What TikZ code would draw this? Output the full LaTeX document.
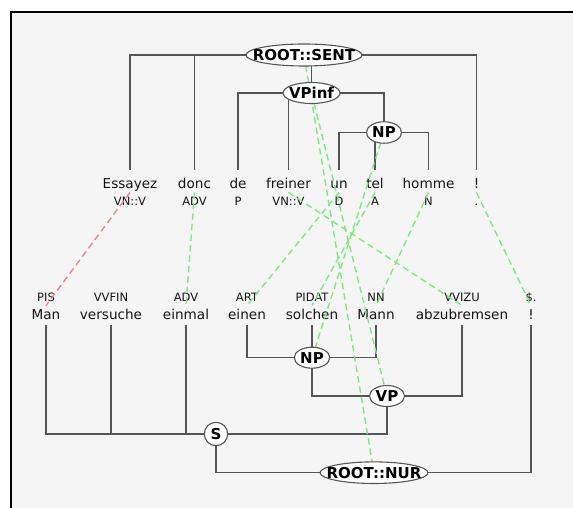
\documentclass[tikz,border=0pt]{standalone}
\usepackage{fontspec}
\setmainfont{DejaVu Sans}
\usetikzlibrary{shapes.geometric}
\definecolor{bg}{RGB}{245,245,245}
\definecolor{treegray}{RGB}{85,85,85}
\definecolor{algreen}{RGB}{128,232,128}
\definecolor{alred}{RGB}{240,132,132}
\definecolor{txt}{RGB}{20,20,20}
\begin{document}
\begin{tikzpicture}[x=1pt,y=1pt,
  tree/.style={draw=treegray, line width=1.5pt},
  aligngreen/.style={draw=algreen, line width=1.4pt, dash pattern=on 6.5pt off 4pt},
  alignred/.style={draw=alred, line width=1.4pt, dash pattern=on 6.5pt off 4pt},
  topword/.style={anchor=base, inner sep=0pt, text height=18.3pt, text depth=0pt, text=txt, font=\fontsize{13.6}{16}\selectfont},
  botword/.style={anchor=base, inner sep=0pt, text height=10pt, text depth=5.7pt, text=txt, font=\fontsize{13.6}{16}\selectfont},
  tagtext/.style={anchor=base, inner sep=0pt, text=txt, font=\fontsize{11.5}{14}\selectfont},
  ell/.style={shape=ellipse, draw=treegray, line width=1.1pt, fill=white, inner sep=0pt},
  circ/.style={shape=circle, draw=treegray, line width=1.1pt, fill=white, inner sep=0pt},
  lab/.style={inner sep=0pt, text=black, font=\fontsize{15}{18}\selectfont\bfseries}
]
\useasboundingbox (0,0) rectangle (573,508);
\fill[white] (0,0) rectangle (573,508);
\fill[bg] (11.2,0) rectangle (573,496.2);
\draw[black, line width=1.8pt] (11.2,0) -- (11.2,496.2) -- (573,496.2);

% top sentence words
\node[topword] (tw1) at (130,319.7) {Essayez};
\node[topword] (tw2) at (194.5,319.7) {donc};
\node[topword] (tw3) at (238,319.7) {de};
\node[topword] (tw4) at (288.5,319.7) {freiner};
\node[topword] (tw5) at (339,319.7) {un};
\node[topword] (tw6) at (375,319.7) {tel};
\node[topword] (tw7) at (428.5,319.7) {homme};
\node[topword] (tw8) at (476.5,319.7) {!};
\node[tagtext] (tt1) at (130,302) {VN::V};
\node[tagtext] (tt2) at (194.5,302) {ADV};
\node[tagtext] (tt3) at (238,302) {P};
\node[tagtext] (tt4) at (288.5,302) {VN::V};
\node[tagtext] (tt5) at (339,302) {D};
\node[tagtext] (tt6) at (375,302) {A};
\node[tagtext] (tt7) at (428.5,302) {N};
\node[tagtext] (tt8) at (476.5,302) {.};

% bottom sentence words
\node[botword] (bw1) at (46,188.7) {Man};
\node[botword] (bw2) at (111,188.7) {versuche};
\node[botword] (bw3) at (186,188.7) {einmal};
\node[botword] (bw4) at (247,188.7) {einen};
\node[botword] (bw5) at (312,188.7) {solchen};
\node[botword] (bw6) at (376,188.7) {Mann};
\node[botword] (bw7) at (462,188.7) {abzubremsen};
\node[botword] (bw8) at (531,188.7) {!};
\node[tagtext] (bt1) at (46,206.3) {PIS};
\node[tagtext] (bt2) at (111,206.3) {VVFIN};
\node[tagtext] (bt3) at (186,206.3) {ADV};
\node[tagtext] (bt4) at (247,206.3) {ART};
\node[tagtext] (bt5) at (312,206.3) {PIDAT};
\node[tagtext] (bt6) at (376,206.3) {NN};
\node[tagtext] (bt7) at (462,206.3) {VVIZU};
\node[tagtext] (bt8) at (531,206.3) {\$.};

% token centres
\foreach \i in {1,...,8} {
  \path (tw\i.base) ++(0,-4.2) coordinate (ta\i);
  \path (bw\i.base) ++(0,13.8) coordinate (ba\i);
}

% phrase node positions
\coordinate (RSc) at (304,453);
\coordinate (VPic) at (311.5,415);
\coordinate (NPtc) at (384,375.5);
\coordinate (NPbc) at (312,150.3);
\coordinate (VPc) at (387,112);
\coordinate (Sc) at (216,74);
\coordinate (RNc) at (374,35.3);

% tree lines
\draw[tree] (tw1.north) |- (RSc);
\draw[tree] (tw2.north) |- (RSc);
\draw[tree] (VPic) |- (RSc);
\draw[tree] (tw8.north) |- (RSc);
\draw[tree] (tw3.north) |- (VPic);
\draw[tree] (tw4.north) |- (VPic);
\draw[tree] (NPtc) |- (VPic);
\draw[tree] (tw5.north) |- (NPtc);
\draw[tree] (tw6.north) |- (NPtc);
\draw[tree] (tw7.north) |- (NPtc);
\draw[tree] (bw4.south) |- (NPbc);
\draw[tree] (bw5.south) |- (NPbc);
\draw[tree] (bw6.south) |- (NPbc);
\draw[tree] (NPbc) |- (VPc);
\draw[tree] (bw7.south) |- (VPc);
\draw[tree] (bw1.south) |- (Sc);
\draw[tree] (bw2.south) |- (Sc);
\draw[tree] (bw3.south) |- (Sc);
\draw[tree] (VPc) |- (Sc);
\draw[tree] (Sc) |- (RNc);
\draw[tree] (bw8.south) |- (RNc);

% alignment lines
\draw[alignred] (ta1) -- (ba1);
\draw[aligngreen] (ta2) -- (ba3);
\draw[aligngreen] (ta4) -- (ba7);
\draw[aligngreen] (ta5) -- (ba4);
\draw[aligngreen] (ta6) -- (ba5);
\draw[aligngreen] (ta7) -- (ba6);
\draw[aligngreen] (ta8) -- (ba8);
\draw[aligngreen] (RSc) -- (RNc);
\draw[aligngreen] (VPic) -- (VPc);
\draw[aligngreen] (NPtc) -- (NPbc);

% phrase nodes
\node[ell, minimum width=116pt, minimum height=22pt] (RS) at (RSc) {};
\node[lab] (RSl) at (RS) {ROOT::SENT};
\node[ell, minimum width=57pt, minimum height=21pt] (VPi) at (VPic) {};
\node[lab] (VPil) at (VPi) {VPinf};
\node[ell, minimum width=35pt, minimum height=21.5pt] (NPt) at (NPtc) {};
\node[lab] (NPtl) at (NPt) {NP};
\node[ell, minimum width=35.5pt, minimum height=21pt] (NPb) at (NPbc) {};
\node[lab] (NPbl) at (NPb) {NP};
\node[ell, minimum width=35pt, minimum height=21pt] (VP) at (VPc) {};
\node[lab] (VPl) at (VP) {VP};
\node[circ, minimum size=23.4pt] (S) at (Sc) {};
\node[lab] (Sl) at (S) {S};
\node[ell, minimum width=108pt, minimum height=21.6pt] (RN) at (RNc) {};
\node[lab] (RNl) at (RN) {ROOT::NUR};
\end{tikzpicture}
\end{document}
